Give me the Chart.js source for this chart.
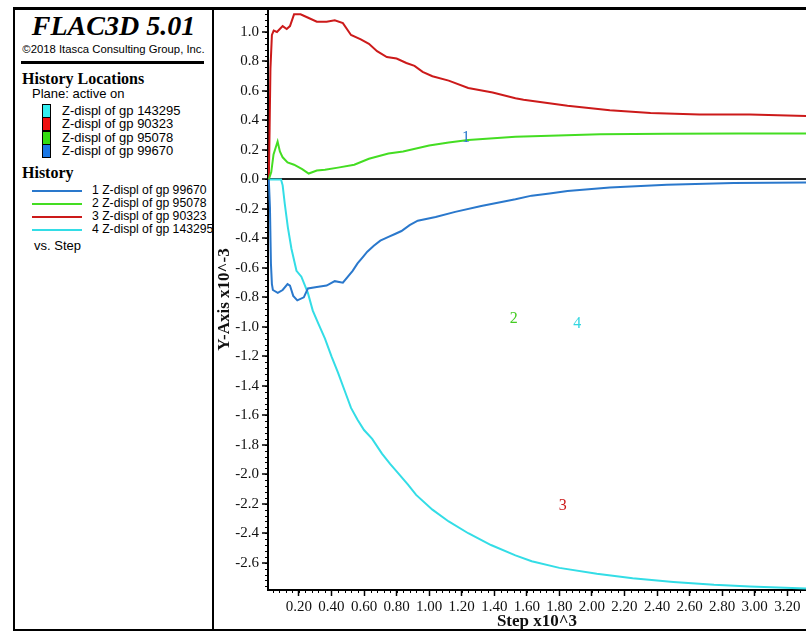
<!DOCTYPE html>
<html>
<head>
<meta charset="utf-8">
<script src="https://cdn.jsdelivr.net/npm/chart.js@4.4.1/dist/chart.umd.min.js"></script>
<style>
html, body { margin: 0; padding: 0; background: #fff; }
#page { position: relative; width: 806px; height: 633px; overflow: hidden; background: #fff; }
#panel { position: absolute; left: 0; top: 0; width: 212px; height: 633px; overflow: hidden; }
.a { position: absolute; white-space: nowrap; color: #000; }
.ser { font-family: 'Liberation Serif', serif; font-weight: bold; font-size: 16px; line-height: 16px; }
.san { font-family: 'Liberation Sans', Arial, sans-serif; font-size: 13px; line-height: 13px; }
.hs { font-size: 12.2px; }
.box { position: absolute; left: 42px; width: 7px; height: 12px; border: 1px solid #000; }
.ln { position: absolute; left: 32px; width: 50px; height: 2px; }
#chartWrap { position: absolute; left: 214px; top: 0; width: 592px; height: 633px; }
</style>
</head>
<body>
<div id="page">
  <!-- frame -->
  <div class="a" style="left:13px;top:7px;width:800px;height:3px;background:#000"></div>
  <div class="a" style="left:13px;top:7px;width:2px;height:624px;background:#000"></div>
  <div class="a" style="left:13px;top:629px;width:800px;height:2px;background:#000"></div>
  <div class="a" style="left:212px;top:7px;width:2px;height:624px;background:#000"></div>

  <div id="panel">
    <div class="a" style="left:15px;width:197px;top:11.5px;text-align:center;font-family:'Liberation Serif',serif;font-weight:bold;font-style:italic;font-size:28px;line-height:28px">FLAC3D 5.01</div>
    <div class="a" style="left:15px;width:197px;top:42.5px;text-align:center;font-family:'Liberation Sans',Arial,sans-serif;font-size:11.3px;line-height:12px">©2018 Itasca Consulting Group, Inc.</div>
    <div class="a" style="left:21px;top:61px;width:183px;height:3px;background:#000"></div>

    <div class="a ser" style="left:22px;top:71px">History Locations</div>
    <div class="a san" style="left:32px;top:86.5px">Plane: active on</div>

    <div class="box" style="top:104px;background:#33eef0"></div>
    <div class="box" style="top:117px;background:#ee1111"></div>
    <div class="box" style="top:130.5px;background:#33dd11"></div>
    <div class="box" style="top:144px;background:#1a78e6"></div>
    <div class="a san" style="left:62px;top:104px">Z-displ of gp 143295</div>
    <div class="a san" style="left:62px;top:117px">Z-displ of gp 90323</div>
    <div class="a san" style="left:62px;top:130.5px">Z-displ of gp 95078</div>
    <div class="a san" style="left:62px;top:144px">Z-displ of gp 99670</div>

    <div class="a ser" style="left:22px;top:165px">History</div>
    <div class="ln" style="top:189.5px;background:#2a78cc"></div>
    <div class="ln" style="top:202.5px;background:#44dd22"></div>
    <div class="ln" style="top:215.5px;background:#cc1a1a"></div>
    <div class="ln" style="top:228.5px;background:#33dde6"></div>
    <div class="a san hs" style="left:92px;top:184px">1 Z-displ of gp 99670</div>
    <div class="a san hs" style="left:92px;top:197px">2 Z-displ of gp 95078</div>
    <div class="a san hs" style="left:92px;top:210px">3 Z-displ of gp 90323</div>
    <div class="a san hs" style="left:92px;top:223px">4 Z-displ of gp 143295</div>
    <div class="a san" style="left:34px;top:239px">vs. Step</div>
  </div>

  <div id="chartWrap"><canvas id="hist"></canvas></div>
</div>

<script>
// history 1 - Z-displ of gp 99670 (x10^-3)
var step1 = [0.015, 0.022, 0.028, 0.034, 0.04, 0.07, 0.10, 0.13, 0.145, 0.165, 0.19, 0.23, 0.255, 0.31, 0.37, 0.42, 0.47, 0.53, 0.56, 0.59, 0.62, 0.66, 0.70, 0.75, 0.79, 0.83, 0.88, 0.93, 1.04, 1.16, 1.32, 1.53, 1.63, 1.74, 1.85, 2.11, 2.46, 2.87, 3.32];
var disp1 = [0, -0.19, -0.57, -0.71, -0.75, -0.77, -0.75, -0.71, -0.72, -0.79, -0.82, -0.80, -0.74, -0.73, -0.72, -0.69, -0.70, -0.62, -0.57, -0.53, -0.49, -0.45, -0.415, -0.39, -0.37, -0.35, -0.31, -0.28, -0.255, -0.22, -0.18, -0.135, -0.11, -0.095, -0.078, -0.054, -0.036, -0.024, -0.02];

// history 2 - Z-displ of gp 95078
var step2 = [0.015, 0.03, 0.044, 0.069, 0.083, 0.10, 0.13, 0.17, 0.22, 0.26, 0.31, 0.36, 0.44, 0.54, 0.63, 0.75, 0.84, 1.0, 1.12, 1.24, 1.53, 1.74, 2.05, 2.46, 2.9, 3.32];
var disp2 = [0, 0.05, 0.17, 0.257, 0.19, 0.15, 0.115, 0.10, 0.07, 0.04, 0.06, 0.065, 0.08, 0.10, 0.14, 0.176, 0.19, 0.23, 0.25, 0.267, 0.29, 0.296, 0.307, 0.31, 0.312, 0.312];

// history 3 - Z-displ of gp 90323
var step3 = [0.015, 0.02, 0.025, 0.034, 0.045, 0.065, 0.10, 0.125, 0.145, 0.17, 0.21, 0.25, 0.31, 0.37, 0.42, 0.47, 0.52, 0.58, 0.63, 0.68, 0.74, 0.80, 0.86, 0.91, 0.96, 1.02, 1.12, 1.24, 1.39, 1.53, 1.58, 1.85, 2.11, 2.36, 2.66, 2.97, 3.32];
var disp3 = [0, 0.35, 0.75, 0.98, 1.01, 1.00, 1.04, 1.02, 1.04, 1.12, 1.12, 1.10, 1.07, 1.07, 1.08, 1.06, 0.98, 0.95, 0.92, 0.87, 0.83, 0.82, 0.79, 0.77, 0.73, 0.70, 0.67, 0.62, 0.59, 0.55, 0.54, 0.50, 0.47, 0.45, 0.44, 0.44, 0.43];

// history 4 - Z-displ of gp 143295
var step4 = [0.015, 0.09, 0.10, 0.113, 0.132, 0.154, 0.185, 0.215, 0.255, 0.285, 0.32, 0.36, 0.40, 0.44, 0.48, 0.52, 0.56, 0.60, 0.65, 0.71, 0.76, 0.80, 0.87, 0.92, 1.02, 1.12, 1.24, 1.38, 1.53, 1.63, 1.80, 2.03, 2.25, 2.50, 2.75, 2.97, 3.32];
var disp4 = [0, 0, -0.04, -0.165, -0.325, -0.47, -0.62, -0.66, -0.77, -0.89, -0.98, -1.08, -1.20, -1.31, -1.43, -1.55, -1.63, -1.70, -1.76, -1.86, -1.93, -1.98, -2.07, -2.14, -2.24, -2.32, -2.40, -2.48, -2.55, -2.59, -2.635, -2.675, -2.705, -2.73, -2.75, -2.762, -2.775];

var xTicks = [0.2, 0.4, 0.6, 0.8, 1.0, 1.2, 1.4, 1.6, 1.8, 2.0, 2.2, 2.4, 2.6, 2.8, 3.0, 3.2];
var yTicks = [-2.6, -2.4, -2.2, -2.0, -1.8, -1.6, -1.4, -1.2, -1.0, -0.8, -0.6, -0.4, -0.2, 0.0, 0.2, 0.4, 0.6, 0.8, 1.0];

// curve number labels
var tagText = ['1', '2', '3', '4'];
var tagStep = [1.226, 1.52, 1.82, 1.91];
var tagDisp = [0.282, -0.945, -2.215, -0.98];
var tagColor = ['#2a78cc', '#44cc22', '#cc1a1a', '#33d6e0'];

function pts(xs, ys) {
    var out = [];
    for (var i = 0; i < xs.length; i++) {
        out.push({ x: xs[i], y: ys[i] });
    }
    return out;
}

var serif = "'Liberation Serif', serif";

// minor ticks + curve numbers
const extras = {
    id: 'extras',
    afterDraw(chart) {
        const ctx = chart.ctx;
        const x = chart.scales.x;
        const y = chart.scales.y;
        ctx.save();
        ctx.strokeStyle = '#000';
        ctx.lineWidth = 1;
        ctx.beginPath();
        for (var i = Math.ceil(y.min / 0.04); i * 0.04 <= y.max; i++) {
            var py = Math.round(y.getPixelForValue(i * 0.04)) + 0.5;
            ctx.moveTo(y.right - 3, py);
            ctx.lineTo(y.right, py);
        }
        for (var j = Math.ceil(x.min / 0.04); j * 0.04 <= x.max; j++) {
            var px = Math.round(x.getPixelForValue(j * 0.04)) + 0.5;
            ctx.moveTo(px, x.top);
            ctx.lineTo(px, x.top + 3);
        }
        ctx.stroke();

        ctx.font = '16px ' + serif;
        ctx.textAlign = 'center';
        ctx.textBaseline = 'middle';
        for (var k = 0; k < tagText.length; k++) {
            ctx.fillStyle = tagColor[k];
            ctx.fillText(tagText[k], x.getPixelForValue(tagStep[k]), y.getPixelForValue(tagDisp[k]));
        }
        ctx.restore();
    }
};

const dataHist = {
    datasets: [
        { label: '1 Z-displ of gp 99670', data: pts(step1, disp1), borderColor: '#2a78cc' },
        { label: '2 Z-displ of gp 95078', data: pts(step2, disp2), borderColor: '#44dd22' },
        { label: '3 Z-displ of gp 90323', data: pts(step3, disp3), borderColor: '#cc1a1a' },
        { label: '4 Z-displ of gp 143295', data: pts(step4, disp4), borderColor: '#33dde6' }
    ]
};

const configHist = {
    type: 'line',
    data: dataHist,
    options: {
        responsive: true,
        maintainAspectRatio: false,
        animation: false,
        layout: { padding: { top: 9, left: 0, right: 0, bottom: 0 } },
        elements: {
            line: { borderWidth: 2, tension: 0, fill: false },
            point: { radius: 0 }
        },
        plugins: {
            legend: { display: false },
            tooltip: { enabled: false }
        },
        scales: {
            x: {
                type: 'linear',
                min: 0.01,
                max: 3.315,
                afterBuildTicks: function (s) { s.ticks = xTicks.map(function (v) { return { value: v }; }); },
                afterFit: function (s) { s.height = 43; s.paddingLeft = 0; s.paddingRight = 0; },
                ticks: {
                    callback: function (v) { return Number(v).toFixed(2); },
                    font: { family: serif, size: 15 },
                    color: '#111',
                    padding: 2,
                    maxRotation: 0,
                    autoSkip: false
                },
                grid: { drawOnChartArea: false, tickLength: 6, tickWidth: 1.5, tickColor: '#000' },
                border: { color: '#000', width: 2 },
                title: {
                    display: true,
                    text: 'Step x10^3',
                    font: { family: serif, size: 17, weight: 'bold' },
                    color: '#111',
                    padding: { top: 0, bottom: 1 }
                }
            },
            y: {
                min: -2.785,
                max: 1.156,
                afterBuildTicks: function (s) { s.ticks = yTicks.map(function (v) { return { value: v }; }); },
                afterFit: function (s) { s.width = 54; s.paddingTop = 0; s.paddingBottom = 0; },
                ticks: {
                    callback: function (v) { return Number(v).toFixed(1); },
                    font: { family: serif, size: 15 },
                    color: '#111',
                    padding: 3,
                    autoSkip: false
                },
                grid: {
                    drawOnChartArea: true,
                    color: function (c) { return c.tick && Math.abs(c.tick.value) < 1e-9 ? '#222' : 'rgba(0,0,0,0)'; },
                    lineWidth: 2,
                    tickLength: 6,
                    tickWidth: 1.5,
                    tickColor: '#000'
                },
                border: { color: '#000', width: 2 },
                title: {
                    display: true,
                    text: 'Y-Axis x10^-3',
                    font: { family: serif, size: 17, weight: 'bold' },
                    color: '#111',
                    padding: { top: 0, bottom: 0 }
                }
            }
        }
    },
    plugins: [extras]
};

const myChartHist = new Chart(document.getElementById('hist'), configHist);
</script>
</body>
</html>
